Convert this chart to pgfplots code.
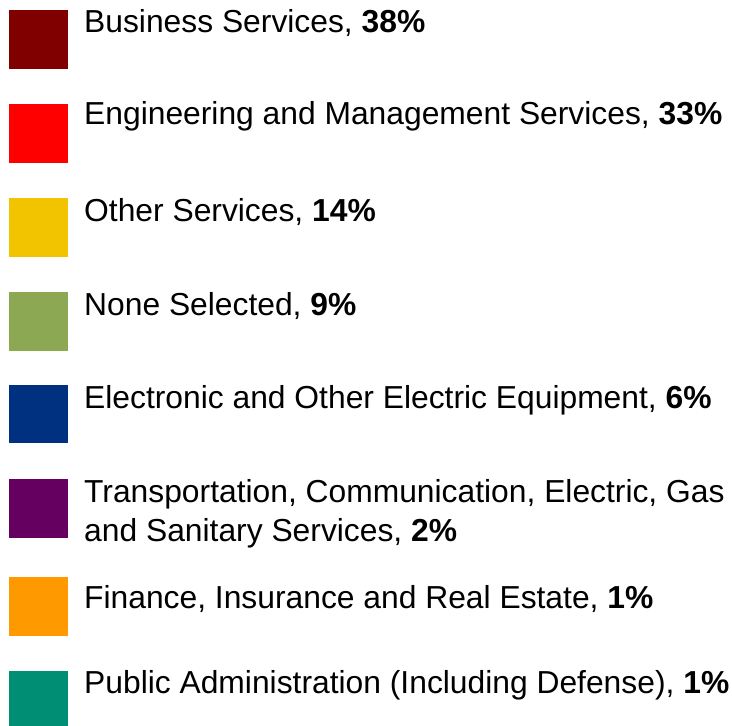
\documentclass[border=0pt]{standalone}
\usepackage{pgfplots}
\pgfplotsset{compat=1.18}
\usepackage{fontspec}
\setmainfont{Liberation Sans}

\definecolor{cBus}{RGB}{128,0,0}
\definecolor{cEng}{RGB}{255,0,0}
\definecolor{cOth}{RGB}{242,196,0}
\definecolor{cNon}{RGB}{140,168,82}
\definecolor{cEle}{RGB}{0,49,128}
\definecolor{cTra}{RGB}{102,0,96}
\definecolor{cFin}{RGB}{255,153,0}
\definecolor{cPub}{RGB}{0,142,117}

\begin{document}
\begin{tikzpicture}[lbl/.style={anchor=base west, inner sep=0pt, font=\fontsize{31.8bp}{38bp}\selectfont}]
\begin{axis}[
  width=732bp, height=726bp, scale only axis,
  xmin=0, xmax=732, ymin=0, ymax=726,
  y dir=reverse,
  hide axis, clip=false,
  every axis plot/.append style={draw=none},
]
% legend keys (x from 9 to 68, top/bottom in px from the top)
\addplot[fill=cBus] coordinates {(9,10) (68,10) (68,69) (9,69)} -- cycle;
\addplot[fill=cEng] coordinates {(9,104) (68,104) (68,163) (9,163)} -- cycle;
\addplot[fill=cOth] coordinates {(9,198) (68,198) (68,257) (9,257)} -- cycle;
\addplot[fill=cNon] coordinates {(9,292) (68,292) (68,351) (9,351)} -- cycle;
\addplot[fill=cEle] coordinates {(9,385) (68,385) (68,443) (9,443)} -- cycle;
\addplot[fill=cTra] coordinates {(9,479) (68,479) (68,538) (9,538)} -- cycle;
\addplot[fill=cFin] coordinates {(9,577) (68,577) (68,636) (9,636)} -- cycle;
\addplot[fill=cPub] coordinates {(9,671) (68,671) (68,726) (9,726)} -- cycle;

\node[lbl] at (axis cs:84,33)  {Business Services, \textbf{38\%}};
\node[lbl] at (axis cs:84,125) {Engineering and Management Services, \textbf{33\%}};
\node[lbl] at (axis cs:84,221) {Other Services, \textbf{14\%}};
\node[lbl] at (axis cs:84,315) {None Selected, \textbf{9\%}};
\node[lbl] at (axis cs:84,408) {Electronic and Other Electric Equipment, \textbf{6\%}};
\node[lbl] at (axis cs:84,502) {Transportation, Communication, Electric, Gas};
\node[lbl] at (axis cs:84,541) {and Sanitary Services, \textbf{2\%}};
\node[lbl] at (axis cs:84,608) {Finance, Insurance and Real Estate, \textbf{1\%}};
\node[lbl] at (axis cs:84,693) {Public Administration (Including Defense), \textbf{1\%}};

\path (axis cs:0,0) rectangle (axis cs:732,726);
\end{axis}
\end{tikzpicture}
\end{document}
